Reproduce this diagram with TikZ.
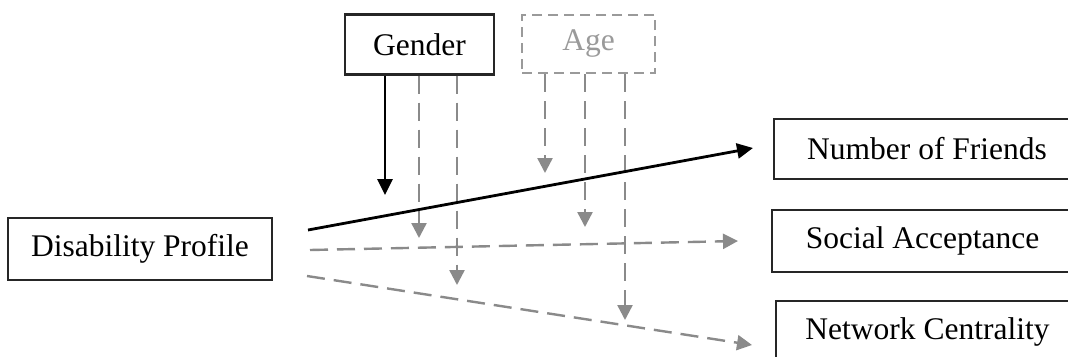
\documentclass[tikz,border=0pt]{standalone}
\usepackage{fontspec}
\setmainfont{Liberation Serif}
\usetikzlibrary{arrows.meta,calc}
\definecolor{dgray}{HTML}{8A8A8A}
\definecolor{agegray}{HTML}{9A9A9A}
\tikzset{
  box/.style={draw=black!85, line width=2.1pt, minimum height=60pt, inner sep=0pt,
    font=\fontsize{31.5}{36}\selectfont},
  dbox/.style={draw=agegray, line width=2pt, dash pattern=on 10pt off 6pt, minimum height=58pt, inner sep=0pt,
    text=agegray, font=\fontsize{31.5}{36}\selectfont},
  solidarrow/.style={draw=black, line width=2.8pt, -{Triangle[length=16pt,width=15pt]}},
  dasharrow/.style={draw=dgray, line width=2.4pt, dash pattern=on 18pt off 9pt, -{Triangle[length=15pt,width=15pt]}}
}
\begin{document}
\begin{tikzpicture}[x=1pt,y=-1pt]
\useasboundingbox (0,0) rectangle (1068,356);
\clip (0,0) rectangle (1068,356);
\fill[white] (0,0) rectangle (1068,356);

\node[box, minimum width=149pt] (gender) at (419.5,44.5) {Gender};
\node[dbox, minimum width=133pt] (age) at (588.5,44) {Age};
\node[box, minimum width=264pt, minimum height=62pt] (dis) at (140,249) {Disability Profile};
\node[box, minimum width=306pt] (nf) at (927,149) {Number of Friends};
\node[box, minimum width=301pt, minimum height=62pt] (sa) at (922.5,241) {Social Acceptance};
\node[box, minimum width=303pt, minimum height=61pt] (nc) at (927.5,331.5) {Network Centrality};

% free ends
\coordinate (s1) at (308,230);
\coordinate (e1) at (753,148);
\coordinate (s2) at (310,250);
\coordinate (e2) at (738,241);
\coordinate (s3) at (307,276);
\coordinate (e3) at (752,345);

\coordinate (g1) at (385,195);
\coordinate (g2) at (419,238);
\coordinate (g3) at (457,285);
\coordinate (a1) at (545,173);
\coordinate (a2) at (585,227);
\coordinate (a3) at (625,320);

% main paths
\draw[dasharrow] (s2) -- (e2);
\draw[dasharrow] (s3) -- (e3);

% moderator arrows
\draw[solidarrow] (gender.south west -| g1) -- (g1);
\draw[dasharrow] (gender.south west -| g2) -- (g2);
\draw[dasharrow] (gender.south west -| g3) -- (g3);
\draw[dasharrow] (age.south west -| a1) -- (a1);
\draw[dasharrow] (age.south west -| a2) -- (a2);
\draw[dasharrow] (age.south west -| a3) -- (a3);

\draw[solidarrow] (s1) -- (e1);
\end{tikzpicture}
\end{document}
